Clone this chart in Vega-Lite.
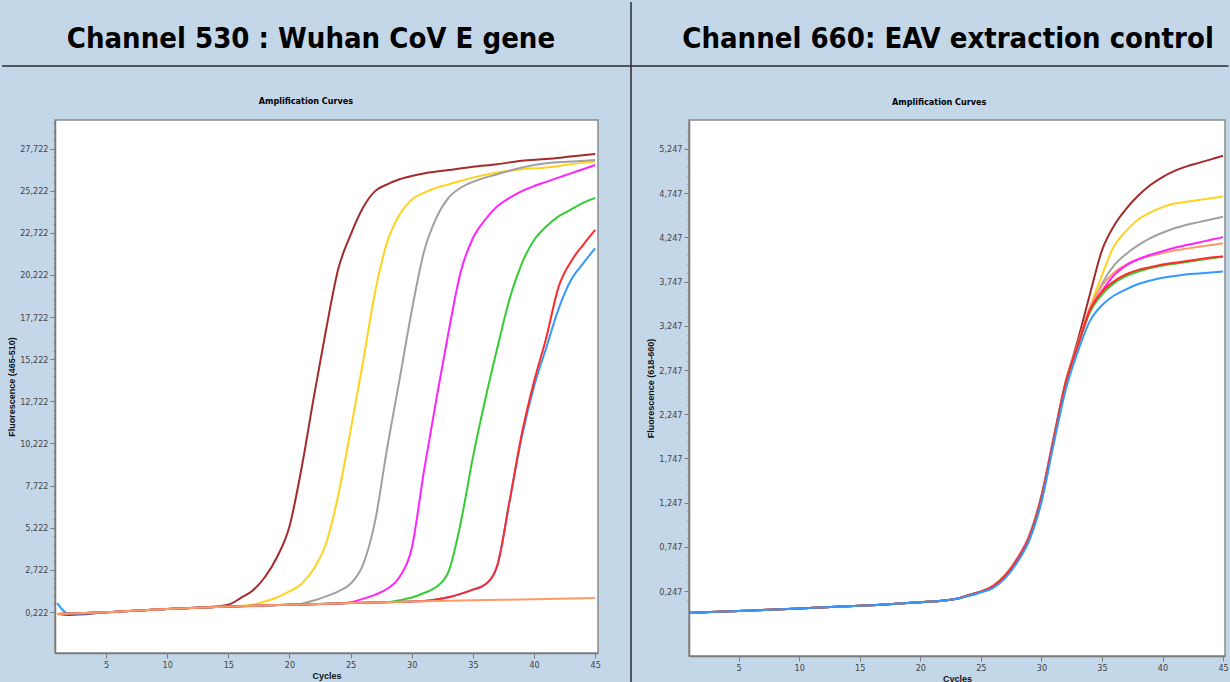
{
  "$schema": "https://vega.github.io/schema/vega-lite/v6.json",
  "background": "#c3d7e9",
  "padding": 0,
  "spacing": -4,
  "config": {
    "view": {"fill": "white", "stroke": "#8c8c8c", "strokeWidth": 1.5},
    "axis": {"labelFont": "DejaVu Sans Condensed, Liberation Sans, sans-serif", "labelFontSize": 9, "labelColor": "#444", "domainColor": "#7a7a7a", "domainWidth": 1.5, "tickColor": "#7a7a7a", "tickSize": 5, "labelPadding": 2, "labelOverlap": false, "grid": false, "titleFont": "Liberation Sans, sans-serif", "titleFontSize": 9, "titleFontWeight": "bold", "titleColor": "#111"},
    "text": {"font": "DejaVu Sans Condensed, Liberation Sans, sans-serif", "fontWeight": "bold", "color": "#000", "align": "center", "baseline": "middle"}
  },
  "datasets": {
    "L": [
      {"s":"brown","c":1,"v":0.1},{"s":"brown","c":2,"v":0.05},{"s":"brown","c":5,"v":0.2},{"s":"brown","c":10,"v":0.4},{"s":"brown","c":13,"v":0.5},{"s":"brown","c":14,"v":0.55},{"s":"brown","c":15,"v":0.65},{"s":"brown","c":16,"v":1.05},{"s":"brown","c":17,"v":1.5},{"s":"brown","c":18,"v":2.3},{"s":"brown","c":19,"v":3.5},{"s":"brown","c":20,"v":5.3},{"s":"brown","c":21,"v":8.8},{"s":"brown","c":22,"v":13.0},{"s":"brown","c":23,"v":17.0},{"s":"brown","c":24,"v":20.6},{"s":"brown","c":25,"v":22.6},{"s":"brown","c":26,"v":24.2},{"s":"brown","c":27,"v":25.2},{"s":"brown","c":28,"v":25.6},{"s":"brown","c":29,"v":25.9},{"s":"brown","c":30,"v":26.1},{"s":"brown","c":31,"v":26.25},{"s":"brown","c":33,"v":26.45},{"s":"brown","c":35,"v":26.65},{"s":"brown","c":37,"v":26.8},{"s":"brown","c":39,"v":27.0},{"s":"brown","c":41,"v":27.1},{"s":"brown","c":43,"v":27.25},{"s":"brown","c":45,"v":27.4},
      {"s":"yellow","c":1,"v":0.1},{"s":"yellow","c":5,"v":0.2},{"s":"yellow","c":10,"v":0.4},{"s":"yellow","c":15,"v":0.55},{"s":"yellow","c":16,"v":0.58},{"s":"yellow","c":17,"v":0.65},{"s":"yellow","c":18,"v":0.85},{"s":"yellow","c":19,"v":1.1},{"s":"yellow","c":20,"v":1.45},{"s":"yellow","c":21,"v":1.9},{"s":"yellow","c":22,"v":2.8},{"s":"yellow","c":23,"v":4.3},{"s":"yellow","c":24,"v":7.2},{"s":"yellow","c":25,"v":11.0},{"s":"yellow","c":26,"v":15.0},{"s":"yellow","c":27,"v":19.2},{"s":"yellow","c":28,"v":22.2},{"s":"yellow","c":29,"v":23.8},{"s":"yellow","c":30,"v":24.7},{"s":"yellow","c":31,"v":25.1},{"s":"yellow","c":32,"v":25.4},{"s":"yellow","c":33,"v":25.6},{"s":"yellow","c":35,"v":26.0},{"s":"yellow","c":37,"v":26.3},{"s":"yellow","c":39,"v":26.5},{"s":"yellow","c":41,"v":26.6},{"s":"yellow","c":43,"v":26.8},{"s":"yellow","c":45,"v":26.95},
      {"s":"gray","c":1,"v":0.1},{"s":"gray","c":5,"v":0.2},{"s":"gray","c":10,"v":0.4},{"s":"gray","c":15,"v":0.55},{"s":"gray","c":20,"v":0.65},{"s":"gray","c":21,"v":0.72},{"s":"gray","c":22,"v":0.9},{"s":"gray","c":23,"v":1.15},{"s":"gray","c":24,"v":1.45},{"s":"gray","c":25,"v":1.9},{"s":"gray","c":26,"v":3.0},{"s":"gray","c":27,"v":5.6},{"s":"gray","c":28,"v":10.0},{"s":"gray","c":29,"v":14.0},{"s":"gray","c":30,"v":18.1},{"s":"gray","c":31,"v":21.6},{"s":"gray","c":32,"v":23.6},{"s":"gray","c":33,"v":24.8},{"s":"gray","c":34,"v":25.4},{"s":"gray","c":35,"v":25.75},{"s":"gray","c":37,"v":26.2},{"s":"gray","c":39,"v":26.6},{"s":"gray","c":41,"v":26.85},{"s":"gray","c":43,"v":26.95},{"s":"gray","c":45,"v":27.05},
      {"s":"magenta","c":1,"v":0.1},{"s":"magenta","c":5,"v":0.2},{"s":"magenta","c":10,"v":0.4},{"s":"magenta","c":15,"v":0.55},{"s":"magenta","c":20,"v":0.65},{"s":"magenta","c":24,"v":0.73},{"s":"magenta","c":25,"v":0.8},{"s":"magenta","c":26,"v":1.0},{"s":"magenta","c":27,"v":1.25},{"s":"magenta","c":28,"v":1.6},{"s":"magenta","c":29,"v":2.3},{"s":"magenta","c":30,"v":4.0},{"s":"magenta","c":31,"v":8.6},{"s":"magenta","c":32,"v":12.8},{"s":"magenta","c":33,"v":16.8},{"s":"magenta","c":34,"v":20.4},{"s":"magenta","c":35,"v":22.4},{"s":"magenta","c":36,"v":23.5},{"s":"magenta","c":37,"v":24.3},{"s":"magenta","c":38,"v":24.8},{"s":"magenta","c":39,"v":25.2},{"s":"magenta","c":40,"v":25.5},{"s":"magenta","c":41,"v":25.75},{"s":"magenta","c":42,"v":26.0},{"s":"magenta","c":43,"v":26.25},{"s":"magenta","c":44,"v":26.5},{"s":"magenta","c":45,"v":26.75},
      {"s":"green","c":1,"v":0.1},{"s":"green","c":5,"v":0.2},{"s":"green","c":10,"v":0.4},{"s":"green","c":15,"v":0.55},{"s":"green","c":20,"v":0.65},{"s":"green","c":25,"v":0.75},{"s":"green","c":28,"v":0.8},{"s":"green","c":29,"v":0.92},{"s":"green","c":30,"v":1.08},{"s":"green","c":31,"v":1.35},{"s":"green","c":32,"v":1.7},{"s":"green","c":33,"v":2.6},{"s":"green","c":34,"v":5.5},{"s":"green","c":35,"v":9.4},{"s":"green","c":36,"v":12.8},{"s":"green","c":37,"v":15.9},{"s":"green","c":38,"v":18.8},{"s":"green","c":39,"v":20.9},{"s":"green","c":40,"v":22.3},{"s":"green","c":41,"v":23.1},{"s":"green","c":42,"v":23.7},{"s":"green","c":43,"v":24.1},{"s":"green","c":44,"v":24.5},{"s":"green","c":45,"v":24.8},
      {"s":"blue","c":1,"v":0.75},{"s":"blue","c":2,"v":0.1},{"s":"blue","c":5,"v":0.2},{"s":"blue","c":10,"v":0.4},{"s":"blue","c":15,"v":0.55},{"s":"blue","c":20,"v":0.65},{"s":"blue","c":25,"v":0.75},{"s":"blue","c":30,"v":0.85},{"s":"blue","c":31,"v":0.88},{"s":"blue","c":32,"v":0.97},{"s":"blue","c":33,"v":1.1},{"s":"blue","c":34,"v":1.3},{"s":"blue","c":35,"v":1.55},{"s":"blue","c":36,"v":1.85},{"s":"blue","c":37,"v":3.0},{"s":"blue","c":38,"v":6.8},{"s":"blue","c":39,"v":10.6},{"s":"blue","c":40,"v":13.6},{"s":"blue","c":41,"v":15.9},{"s":"blue","c":42,"v":18.2},{"s":"blue","c":43,"v":19.9},{"s":"blue","c":44,"v":20.9},{"s":"blue","c":45,"v":21.8},
      {"s":"red","c":1,"v":0.1},{"s":"red","c":5,"v":0.2},{"s":"red","c":10,"v":0.4},{"s":"red","c":15,"v":0.55},{"s":"red","c":20,"v":0.65},{"s":"red","c":25,"v":0.75},{"s":"red","c":30,"v":0.85},{"s":"red","c":31,"v":0.88},{"s":"red","c":32,"v":0.97},{"s":"red","c":33,"v":1.1},{"s":"red","c":34,"v":1.3},{"s":"red","c":35,"v":1.55},{"s":"red","c":36,"v":1.85},{"s":"red","c":37,"v":3.0},{"s":"red","c":38,"v":6.8},{"s":"red","c":39,"v":10.8},{"s":"red","c":40,"v":13.9},{"s":"red","c":41,"v":16.5},{"s":"red","c":42,"v":19.5},{"s":"red","c":43,"v":21.0},{"s":"red","c":44,"v":22.0},{"s":"red","c":45,"v":22.9},
      {"s":"orange","c":1,"v":0.1},{"s":"orange","c":5,"v":0.2},{"s":"orange","c":10,"v":0.4},{"s":"orange","c":15,"v":0.55},{"s":"orange","c":20,"v":0.65},{"s":"orange","c":25,"v":0.75},{"s":"orange","c":30,"v":0.85},{"s":"orange","c":35,"v":0.92},{"s":"orange","c":40,"v":0.98},{"s":"orange","c":45,"v":1.05}
    ],
    "R": [
      {"s":"brown","c":1,"v":0.0},{"s":"brown","c":5,"v":0.02},{"s":"brown","c":10,"v":0.05},{"s":"brown","c":15,"v":0.08},{"s":"brown","c":20,"v":0.12},{"s":"brown","c":22,"v":0.14},{"s":"brown","c":23,"v":0.16},{"s":"brown","c":24,"v":0.2},{"s":"brown","c":25,"v":0.24},{"s":"brown","c":26,"v":0.3},{"s":"brown","c":27,"v":0.42},{"s":"brown","c":28,"v":0.6},{"s":"brown","c":29,"v":0.85},{"s":"brown","c":30,"v":1.3},{"s":"brown","c":31,"v":1.95},{"s":"brown","c":32,"v":2.6},{"s":"brown","c":33,"v":3.08},{"s":"brown","c":34,"v":3.6},{"s":"brown","c":35,"v":4.1},{"s":"brown","c":36,"v":4.38},{"s":"brown","c":37,"v":4.57},{"s":"brown","c":38,"v":4.72},{"s":"brown","c":39,"v":4.84},{"s":"brown","c":40,"v":4.93},{"s":"brown","c":41,"v":5.0},{"s":"brown","c":42,"v":5.05},{"s":"brown","c":43,"v":5.09},{"s":"brown","c":44,"v":5.13},{"s":"brown","c":45,"v":5.17},
      {"s":"yellow","c":1,"v":0.0},{"s":"yellow","c":5,"v":0.02},{"s":"yellow","c":10,"v":0.05},{"s":"yellow","c":15,"v":0.08},{"s":"yellow","c":20,"v":0.12},{"s":"yellow","c":22,"v":0.14},{"s":"yellow","c":23,"v":0.16},{"s":"yellow","c":24,"v":0.2},{"s":"yellow","c":25,"v":0.24},{"s":"yellow","c":26,"v":0.3},{"s":"yellow","c":27,"v":0.41},{"s":"yellow","c":28,"v":0.58},{"s":"yellow","c":29,"v":0.83},{"s":"yellow","c":30,"v":1.27},{"s":"yellow","c":31,"v":1.92},{"s":"yellow","c":32,"v":2.56},{"s":"yellow","c":33,"v":3.03},{"s":"yellow","c":34,"v":3.45},{"s":"yellow","c":35,"v":3.82},{"s":"yellow","c":36,"v":4.15},{"s":"yellow","c":37,"v":4.32},{"s":"yellow","c":38,"v":4.45},{"s":"yellow","c":39,"v":4.53},{"s":"yellow","c":40,"v":4.59},{"s":"yellow","c":41,"v":4.63},{"s":"yellow","c":42,"v":4.65},{"s":"yellow","c":43,"v":4.67},{"s":"yellow","c":44,"v":4.69},{"s":"yellow","c":45,"v":4.71},
      {"s":"gray","c":1,"v":0.0},{"s":"gray","c":5,"v":0.02},{"s":"gray","c":10,"v":0.05},{"s":"gray","c":15,"v":0.08},{"s":"gray","c":20,"v":0.12},{"s":"gray","c":22,"v":0.14},{"s":"gray","c":23,"v":0.16},{"s":"gray","c":24,"v":0.2},{"s":"gray","c":25,"v":0.24},{"s":"gray","c":26,"v":0.3},{"s":"gray","c":27,"v":0.42},{"s":"gray","c":28,"v":0.6},{"s":"gray","c":29,"v":0.85},{"s":"gray","c":30,"v":1.3},{"s":"gray","c":31,"v":1.95},{"s":"gray","c":32,"v":2.6},{"s":"gray","c":33,"v":3.02},{"s":"gray","c":34,"v":3.42},{"s":"gray","c":35,"v":3.72},{"s":"gray","c":36,"v":3.93},{"s":"gray","c":37,"v":4.06},{"s":"gray","c":38,"v":4.16},{"s":"gray","c":39,"v":4.24},{"s":"gray","c":40,"v":4.3},{"s":"gray","c":41,"v":4.35},{"s":"gray","c":42,"v":4.39},{"s":"gray","c":43,"v":4.42},{"s":"gray","c":44,"v":4.45},{"s":"gray","c":45,"v":4.48},
      {"s":"orange","c":1,"v":0.0},{"s":"orange","c":5,"v":0.02},{"s":"orange","c":10,"v":0.05},{"s":"orange","c":15,"v":0.08},{"s":"orange","c":20,"v":0.12},{"s":"orange","c":22,"v":0.14},{"s":"orange","c":23,"v":0.16},{"s":"orange","c":24,"v":0.2},{"s":"orange","c":25,"v":0.24},{"s":"orange","c":26,"v":0.31},{"s":"orange","c":27,"v":0.43},{"s":"orange","c":28,"v":0.62},{"s":"orange","c":29,"v":0.88},{"s":"orange","c":30,"v":1.33},{"s":"orange","c":31,"v":1.98},{"s":"orange","c":32,"v":2.62},{"s":"orange","c":33,"v":3.04},{"s":"orange","c":34,"v":3.45},{"s":"orange","c":35,"v":3.7},{"s":"orange","c":36,"v":3.85},{"s":"orange","c":37,"v":3.94},{"s":"orange","c":38,"v":4.0},{"s":"orange","c":39,"v":4.04},{"s":"orange","c":40,"v":4.07},{"s":"orange","c":41,"v":4.1},{"s":"orange","c":42,"v":4.12},{"s":"orange","c":43,"v":4.14},{"s":"orange","c":44,"v":4.16},{"s":"orange","c":45,"v":4.18},
      {"s":"magenta","c":1,"v":0.0},{"s":"magenta","c":5,"v":0.02},{"s":"magenta","c":10,"v":0.05},{"s":"magenta","c":15,"v":0.08},{"s":"magenta","c":20,"v":0.12},{"s":"magenta","c":22,"v":0.14},{"s":"magenta","c":23,"v":0.16},{"s":"magenta","c":24,"v":0.2},{"s":"magenta","c":25,"v":0.24},{"s":"magenta","c":26,"v":0.3},{"s":"magenta","c":27,"v":0.42},{"s":"magenta","c":28,"v":0.61},{"s":"magenta","c":29,"v":0.87},{"s":"magenta","c":30,"v":1.32},{"s":"magenta","c":31,"v":1.97},{"s":"magenta","c":32,"v":2.6},{"s":"magenta","c":33,"v":3.02},{"s":"magenta","c":34,"v":3.42},{"s":"magenta","c":35,"v":3.64},{"s":"magenta","c":36,"v":3.82},{"s":"magenta","c":37,"v":3.93},{"s":"magenta","c":38,"v":4.0},{"s":"magenta","c":39,"v":4.05},{"s":"magenta","c":40,"v":4.09},{"s":"magenta","c":41,"v":4.13},{"s":"magenta","c":42,"v":4.16},{"s":"magenta","c":43,"v":4.19},{"s":"magenta","c":44,"v":4.22},{"s":"magenta","c":45,"v":4.25},
      {"s":"green","c":1,"v":0.0},{"s":"green","c":5,"v":0.02},{"s":"green","c":10,"v":0.05},{"s":"green","c":15,"v":0.08},{"s":"green","c":20,"v":0.12},{"s":"green","c":22,"v":0.14},{"s":"green","c":23,"v":0.16},{"s":"green","c":24,"v":0.2},{"s":"green","c":25,"v":0.24},{"s":"green","c":26,"v":0.3},{"s":"green","c":27,"v":0.42},{"s":"green","c":28,"v":0.6},{"s":"green","c":29,"v":0.86},{"s":"green","c":30,"v":1.31},{"s":"green","c":31,"v":1.96},{"s":"green","c":32,"v":2.6},{"s":"green","c":33,"v":3.02},{"s":"green","c":34,"v":3.4},{"s":"green","c":35,"v":3.6},{"s":"green","c":36,"v":3.73},{"s":"green","c":37,"v":3.81},{"s":"green","c":38,"v":3.86},{"s":"green","c":39,"v":3.9},{"s":"green","c":40,"v":3.93},{"s":"green","c":41,"v":3.95},{"s":"green","c":42,"v":3.97},{"s":"green","c":43,"v":3.99},{"s":"green","c":44,"v":4.01},{"s":"green","c":45,"v":4.03},
      {"s":"red","c":1,"v":0.0},{"s":"red","c":5,"v":0.02},{"s":"red","c":10,"v":0.05},{"s":"red","c":15,"v":0.08},{"s":"red","c":20,"v":0.12},{"s":"red","c":22,"v":0.14},{"s":"red","c":23,"v":0.16},{"s":"red","c":24,"v":0.2},{"s":"red","c":25,"v":0.24},{"s":"red","c":26,"v":0.3},{"s":"red","c":27,"v":0.42},{"s":"red","c":28,"v":0.6},{"s":"red","c":29,"v":0.85},{"s":"red","c":30,"v":1.3},{"s":"red","c":31,"v":1.95},{"s":"red","c":32,"v":2.6},{"s":"red","c":33,"v":3.02},{"s":"red","c":34,"v":3.42},{"s":"red","c":35,"v":3.63},{"s":"red","c":36,"v":3.75},{"s":"red","c":37,"v":3.83},{"s":"red","c":38,"v":3.88},{"s":"red","c":39,"v":3.91},{"s":"red","c":40,"v":3.94},{"s":"red","c":41,"v":3.96},{"s":"red","c":42,"v":3.98},{"s":"red","c":43,"v":4.0},{"s":"red","c":44,"v":4.02},{"s":"red","c":45,"v":4.03},
      {"s":"blue","c":1,"v":0.0},{"s":"blue","c":5,"v":0.02},{"s":"blue","c":10,"v":0.05},{"s":"blue","c":15,"v":0.08},{"s":"blue","c":20,"v":0.12},{"s":"blue","c":22,"v":0.14},{"s":"blue","c":23,"v":0.16},{"s":"blue","c":24,"v":0.19},{"s":"blue","c":25,"v":0.23},{"s":"blue","c":26,"v":0.28},{"s":"blue","c":27,"v":0.39},{"s":"blue","c":28,"v":0.57},{"s":"blue","c":29,"v":0.82},{"s":"blue","c":30,"v":1.25},{"s":"blue","c":31,"v":1.9},{"s":"blue","c":32,"v":2.52},{"s":"blue","c":33,"v":2.95},{"s":"blue","c":34,"v":3.3},{"s":"blue","c":35,"v":3.48},{"s":"blue","c":36,"v":3.59},{"s":"blue","c":37,"v":3.66},{"s":"blue","c":38,"v":3.72},{"s":"blue","c":39,"v":3.76},{"s":"blue","c":40,"v":3.79},{"s":"blue","c":41,"v":3.81},{"s":"blue","c":42,"v":3.83},{"s":"blue","c":43,"v":3.84},{"s":"blue","c":44,"v":3.85},{"s":"blue","c":45,"v":3.86}
    ]
  },
  "hconcat": [
    {
      "width": 543,
      "height": 533,
      "layer": [
        {
          "data": {"name": "L"},
          "mark": {"type": "line", "strokeWidth": 2, "interpolate": "monotone"},
          "encoding": {
            "x": {"field": "c", "type": "quantitative", "scale": {"domain": [0.83, 45.23], "nice": false, "zero": false}, "axis": {"values": [5, 10, 15, 20, 25, 30, 35, 40, 45], "title": "Cycles", "titlePadding": 2}},
            "y": {"field": "v", "type": "quantitative", "scale": {"domain": [-2.211, 29.42], "nice": false, "zero": false}, "axis": {
              "values": [0.222, 0.722, 1.222, 1.722, 2.222, 2.722, 3.222, 3.722, 4.222, 4.722, 5.222, 5.722, 6.222, 6.722, 7.222, 7.722, 8.222, 8.722, 9.222, 9.722, 10.222, 10.722, 11.222, 11.722, 12.222, 12.722, 13.222, 13.722, 14.222, 14.722, 15.222, 15.722, 16.222, 16.722, 17.222, 17.722, 18.222, 18.722, 19.222, 19.722, 20.222, 20.722, 21.222, 21.722, 22.222, 22.722, 23.222, 23.722, 24.222, 24.722, 25.222, 25.722, 26.222, 26.722, 27.222, 27.722, 28.222, 28.722, 29.222],
              "tickCount": 500,
              "labelExpr": "abs((datum.value - 0.222) / 2.5 - round((datum.value - 0.222) / 2.5)) < 0.01 ? replace(format(datum.value, '.3f'), '.', ',') : ''",
              "tickSize": {"condition": {"test": "abs((datum.value - 0.222) / 2.5 - round((datum.value - 0.222) / 2.5)) < 0.01", "value": 5}, "value": 2},
              "title": "Fluorescence (465-510)", "titlePadding": 3}},
            "color": {"field": "s", "type": "nominal", "scale": {"domain": ["brown", "yellow", "gray", "magenta", "green", "red", "blue", "orange"], "range": ["#a52a2a", "#ffd21e", "#a0a0a0", "#ff22ff", "#33cc33", "#ff2a2a", "#3399ff", "#ff9a66"]}, "legend": null}
          }
        },
        {
          "data": {"values": [{}]},
          "mark": {"type": "rule", "color": "#2b2b2b", "strokeWidth": 1.5},
          "encoding": {"x": {"datum": 47.93}, "y": {"datum": -3.93}, "y2": {"datum": 36.42}}
        },
        {
          "data": {"values": [{}]},
          "mark": {"type": "rule", "color": "#2b2b2b", "strokeWidth": 1.5},
          "encoding": {"x": {"datum": -3.5}, "x2": {"datum": 47.93}, "y": {"datum": 32.62}}
        },
        {
          "data": {"values": [{"t": "Channel 530 : Wuhan CoV E gene"}]},
          "mark": {"type": "text", "fontSize": 29},
          "encoding": {"text": {"field": "t"}, "x": {"datum": 21.76}, "y": {"datum": 34.23}}
        },
        {
          "data": {"values": [{"t": "Amplification Curves"}]},
          "mark": {"type": "text", "fontSize": 9},
          "encoding": {"text": {"field": "t"}, "x": {"datum": 21.35}, "y": {"datum": 30.55}}
        }
      ]
    },
    {
      "width": 536,
      "height": 536,
      "layer": [
        {
          "data": {"name": "R"},
          "mark": {"type": "line", "strokeWidth": 2, "interpolate": "monotone"},
          "encoding": {
            "x": {"field": "c", "type": "quantitative", "scale": {"domain": [0.9, 45.16], "nice": false, "zero": false}, "axis": {"values": [5, 10, 15, 20, 25, 30, 35, 40, 45], "title": "Cycles", "titlePadding": 2}},
            "y": {"field": "v", "type": "quantitative", "scale": {"domain": [-0.488, 5.575], "nice": false, "zero": false}, "axis": {
              "values": [0.147, 0.247, 0.347, 0.447, 0.547, 0.647, 0.747, 0.847, 0.947, 1.047, 1.147, 1.247, 1.347, 1.447, 1.547, 1.647, 1.747, 1.847, 1.947, 2.047, 2.147, 2.247, 2.347, 2.447, 2.547, 2.647, 2.747, 2.847, 2.947, 3.047, 3.147, 3.247, 3.347, 3.447, 3.547, 3.647, 3.747, 3.847, 3.947, 4.047, 4.147, 4.247, 4.347, 4.447, 4.547, 4.647, 4.747, 4.847, 4.947, 5.047, 5.147, 5.247, 5.347, 5.447],
              "tickCount": 500,
              "labelExpr": "abs((datum.value - 0.247) / 0.5 - round((datum.value - 0.247) / 0.5)) < 0.01 ? replace(format(datum.value, '.3f'), '.', ',') : ''",
              "tickSize": {"condition": {"test": "abs((datum.value - 0.247) / 0.5 - round((datum.value - 0.247) / 0.5)) < 0.01", "value": 5}, "value": 2},
              "title": "Fluorescence (618-660)", "titlePadding": 3}},
            "color": {"field": "s", "type": "nominal", "scale": {"domain": ["brown", "yellow", "gray", "magenta", "green", "red", "blue", "orange"], "range": ["#a52a2a", "#ffd21e", "#a0a0a0", "#ff22ff", "#33cc33", "#ff2a2a", "#3399ff", "#ff9a66"]}, "legend": null}
          }
        },
        {
          "data": {"values": [{}]},
          "mark": {"type": "rule", "color": "#2b2b2b", "strokeWidth": 1.5},
          "encoding": {"x": {"datum": -3.9}, "x2": {"datum": 45.45}, "y": {"datum": 6.186}}
        },
        {
          "data": {"values": [{"t": "Channel 660: EAV extraction control"}]},
          "mark": {"type": "text", "fontSize": 29},
          "encoding": {"text": {"field": "t"}, "x": {"datum": 22.29}, "y": {"datum": 6.491}}
        },
        {
          "data": {"values": [{"t": "Amplification Curves"}]},
          "mark": {"type": "text", "fontSize": 9},
          "encoding": {"text": {"field": "t"}, "x": {"datum": 21.56}, "y": {"datum": 5.779}}
        }
      ]
    }
  ]
}
